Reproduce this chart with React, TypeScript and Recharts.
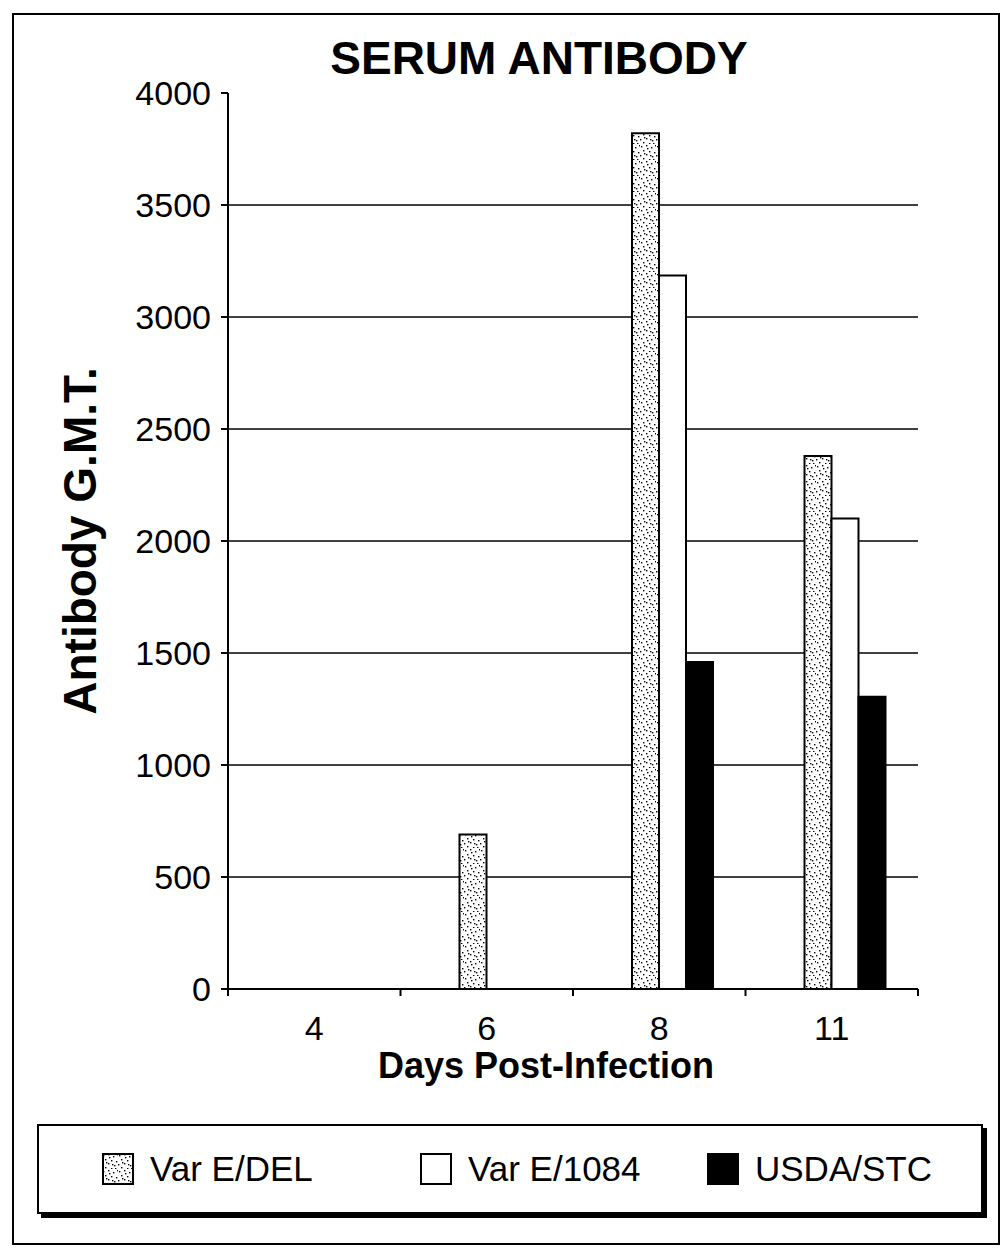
import React from "react";
import { BarChart, Bar, XAxis, YAxis, CartesianGrid } from "recharts";

const days = ["4", "6", "8", "11"];
// empty fourth series in the original sheet: it only takes the first slot of each group
const spacerSeries = [0, 0, 0, 0];
const varEDel = [0, 690, 3820, 2380];
const varE1084 = [0, 0, 3185, 2100];
const usdaStc = [0, 0, 1460, 1305];
const yTicks = [0, 500, 1000, 1500, 2000, 2500, 3000, 3500, 4000];
const gridValues = [500, 1000, 1500, 2000, 2500, 3000, 3500];
const legendNames = ["Var E/DEL", "Var E/1084", "USDA/STC"];

const FONT = '"Liberation Sans", Arial, sans-serif';
const TICK_LEN = 7;
const TICK_GAP = 20;

const data = days.map((day, i) => ({
  day,
  spacer: spacerSeries[i],
  del: varEDel[i],
  e1084: varE1084[i],
  usda: usdaStc[i],
}));

// irregular stipple for the Var E/DEL fill
const dots: [number, number][] = [
  [1, 2], [6, 1], [11, 3], [3, 6], [9, 7], [14, 8], [0, 11], [6, 10],
  [12, 12], [3, 14], [9, 15], [15, 1], [13, 15], [7, 4], [4, 9], [10, 11],
];

const Stipple = ({ id }: { id: string }) => (
  <pattern id={id} width="16" height="16" patternUnits="userSpaceOnUse">
    <rect width="16" height="16" fill="#fff" />
    {dots.map(([cx, cy], i) => (
      <rect key={i} x={cx} y={cy} width="1.4" height="1.4" fill="#000" />
    ))}
  </pattern>
);

const XTick = (props: any) => {
  const { x, y, width, payload, index, visibleTicksCount } = props;
  const n = visibleTicksCount || days.length;
  const band = (width || 690) / n;
  const axisY = y - TICK_LEN - TICK_GAP;
  const left = x - band / 2;
  return (
    <g>
      <line x1={left} x2={left} y1={axisY} y2={axisY + TICK_LEN} stroke="#000" strokeWidth={2} />
      {index === n - 1 && (
        <line x1={x + band / 2} x2={x + band / 2} y1={axisY} y2={axisY + TICK_LEN} stroke="#000" strokeWidth={2} />
      )}
      <text x={x} y={y} dy="0.71em" textAnchor="middle" fontSize={34} fontFamily={FONT} fill="#000">
        {payload.value}
      </text>
    </g>
  );
};

const legendFills = ["url(#stippleLegend)", "#fff", "#000"];
const legendLefts = [63, 381, 668];

export default function App() {
  return (
    <div
      style={{
        position: "absolute",
        left: 0,
        top: 0,
        width: 1005,
        height: 1254,
        background: "#fff",
        fontFamily: FONT,
      }}
    >
      <div
        style={{
          position: "absolute",
          left: 12,
          top: 13,
          width: 988,
          height: 1232,
          border: "2px solid #000",
          boxSizing: "border-box",
        }}
      />
      <div
        style={{
          position: "absolute",
          left: 239,
          top: 35,
          width: 600,
          textAlign: "center",
          fontSize: 46,
          fontWeight: "bold",
          lineHeight: 1,
          color: "#000",
        }}
      >
        SERUM ANTIBODY
      </div>

      <div style={{ position: "absolute", left: 0, top: 0 }}>
        <BarChart
          width={1005}
          height={1100}
          data={data}
          margin={{ top: 93, right: 87, left: 0, bottom: 28 }}
          barSize={27}
          barGap={0}
        >
          <defs>
            <Stipple id="stipple" />
          </defs>
          <CartesianGrid
            horizontal
            vertical={false}
            stroke="#000"
            strokeWidth={1.5}
            horizontalValues={gridValues}
          />
          <XAxis
            dataKey="day"
            height={83}
            axisLine={{ stroke: "#000", strokeWidth: 2 }}
            tickLine={false}
            tickSize={TICK_LEN}
            tickMargin={TICK_GAP}
            tick={<XTick />}
            interval={0}
            label={{
              value: "Days Post-Infection",
              position: "insideBottom",
              offset: -6,
              dx: -27,
              fontSize: 36,
              fontWeight: "bold",
              fill: "#000",
              fontFamily: FONT,
            }}
          />
          <YAxis
            width={228}
            domain={[0, 4000]}
            ticks={yTicks}
            interval={0}
            axisLine={{ stroke: "#000", strokeWidth: 2 }}
            tickLine={{ stroke: "#000", strokeWidth: 2 }}
            tickSize={TICK_LEN}
            tickMargin={10}
            tick={{ fontSize: 34, fill: "#000", fontFamily: FONT }}
            label={{
              value: "Antibody G.M.T.",
              angle: -90,
              position: "insideLeft",
              offset: 80,
              fontSize: 46,
              fontWeight: "bold",
              fill: "#000",
              fontFamily: FONT,
              style: { textAnchor: "middle" },
            }}
          />
          <Bar dataKey="spacer" fill="none" legendType="none" isAnimationActive={false} />
          <Bar dataKey="del" name={legendNames[0]} fill="url(#stipple)" stroke="#000" strokeWidth={2} isAnimationActive={false} />
          <Bar dataKey="e1084" name={legendNames[1]} fill="#fff" stroke="#000" strokeWidth={2} isAnimationActive={false} />
          <Bar dataKey="usda" name={legendNames[2]} fill="#000" stroke="#000" strokeWidth={2} isAnimationActive={false} />
        </BarChart>
      </div>

      <div
        style={{
          position: "absolute",
          left: 37,
          top: 1124,
          width: 946,
          height: 90,
          border: "2px solid #000",
          boxSizing: "border-box",
          boxShadow: "4px 4px 0 #000",
          background: "#fff",
        }}
      >
        {legendNames.map((name, i) => (
          <div
            key={name}
            style={{
              position: "absolute",
              left: legendLefts[i],
              top: 0,
              height: "100%",
              display: "flex",
              alignItems: "center",
              gap: 16,
              fontSize: 35,
              color: "#000",
              whiteSpace: "nowrap",
            }}
          >
            <svg width={32} height={32}>
              <defs>
                <Stipple id="stippleLegend" />
              </defs>
              <rect x={1} y={1} width={30} height={30} fill={legendFills[i]} stroke="#000" strokeWidth={2} />
            </svg>
            <span>{name}</span>
          </div>
        ))}
      </div>
    </div>
  );
}
